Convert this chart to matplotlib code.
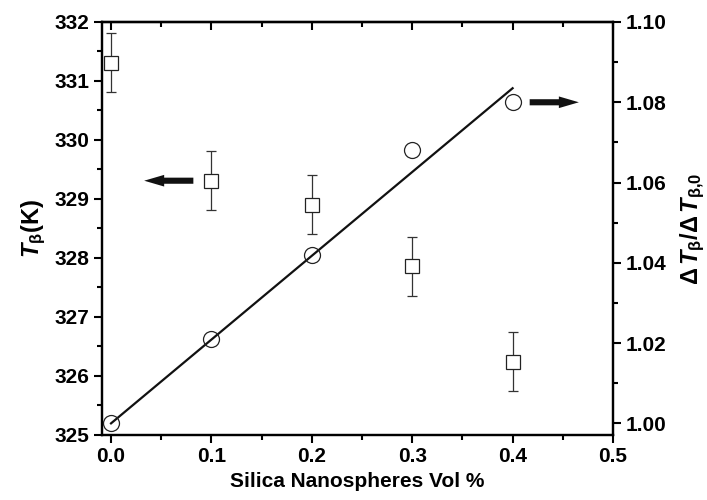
import matplotlib
matplotlib.use("Agg")
import matplotlib.pyplot as plt
from matplotlib.ticker import MultipleLocator, FormatStrFormatter

plt.rcParams['font.family'] = ['Liberation Sans', 'DejaVu Sans']
plt.rcParams['font.weight'] = 'bold'
plt.rcParams['mathtext.fontset'] = 'custom'
plt.rcParams['mathtext.rm'] = 'Liberation Sans:bold'
plt.rcParams['mathtext.it'] = 'Liberation Sans:bold:italic'
plt.rcParams['mathtext.bf'] = 'Liberation Sans:bold'

# Data
vol = [0.0, 0.1, 0.2, 0.3, 0.4]
t_beta = [331.31, 329.31, 328.90, 327.86, 326.24]
t_err = [0.5, 0.5, 0.5, 0.5, 0.5]
ratio = [1.000, 1.021, 1.042, 1.068, 1.080]
fit_x = [0.0, 0.4]
fit_y = [1.000, 1.0835]

fig = plt.figure(figsize=(7.07, 5.0), dpi=100)
ax = fig.add_axes([102/707, 65/500, 511/707, 413/500])
ax2 = ax.twinx()

ax.errorbar(vol, t_beta, yerr=t_err, fmt='s', ms=10, mfc='white', mec='#222222',
            mew=0.9, ecolor='#333333', elinewidth=0.9, capsize=3.5, capthick=0.9, zorder=3)
ax2.plot(fit_x, fit_y, color='#111111', lw=1.6, zorder=2)
ax2.plot(vol, ratio, 'o', ms=11.5, mfc='none', mec='#222222', mew=0.9, zorder=3)

ax.set_xlim(-0.009, 0.5)
ax.set_ylim(325, 332)
ax2.set_ylim(0.9971, 1.1)

# arrows
astyle = 'simple,head_length=0.72,head_width=0.42,tail_width=0.22'
ax.annotate('', xy=(0.033, 329.31), xytext=(0.082, 329.31),
            arrowprops=dict(arrowstyle=astyle, mutation_scale=20, lw=0,
                            fc='#111111', ec='none', shrinkA=0, shrinkB=0))
ax2.annotate('', xy=(0.466, 1.08), xytext=(0.417, 1.08),
             arrowprops=dict(arrowstyle=astyle, mutation_scale=20, lw=0,
                             fc='#111111', ec='none', shrinkA=0, shrinkB=0))

ax.xaxis.set_major_locator(MultipleLocator(0.1))
ax.xaxis.set_minor_locator(MultipleLocator(0.05))
ax.xaxis.set_major_formatter(FormatStrFormatter('%.1f'))
ax.yaxis.set_major_locator(MultipleLocator(1))
ax.yaxis.set_minor_locator(MultipleLocator(0.5))
ax2.yaxis.set_major_locator(MultipleLocator(0.02))
ax2.yaxis.set_minor_locator(MultipleLocator(0.01))
ax2.yaxis.set_major_formatter(FormatStrFormatter('%.2f'))

for a in (ax, ax2):
    for s in a.spines.values():
        s.set_linewidth(1.6)
    a.tick_params(which='major', direction='out', length=6, width=1.5, labelsize=15, pad=3)
    a.tick_params(which='minor', direction='out', length=3.5, width=1.5)

sec = ax.secondary_xaxis('top')
sec.xaxis.set_major_locator(MultipleLocator(0.1))
sec.xaxis.set_minor_locator(MultipleLocator(0.05))
sec.tick_params(which='major', direction='in', length=6, width=1.5, labeltop=False)
sec.tick_params(which='minor', direction='in', length=3.5, width=1.5)
sec.spines['top'].set_linewidth(1.6)

ax.set_xlabel('Silica Nanospheres Vol %', fontsize=15, fontweight='bold', labelpad=4)
ax.set_ylabel(r'$T_{\mathrm{\beta}}$(K)', fontsize=17, fontweight='bold', labelpad=5)
ax2.set_ylabel(r'$\mathrm{\Delta}\,T_{\mathrm{\beta}}/\mathrm{\Delta}\,T_{\mathrm{\beta{,}0}}$',
               fontsize=17, fontweight='bold', labelpad=9)

fig.savefig('out.png', dpi=100)
